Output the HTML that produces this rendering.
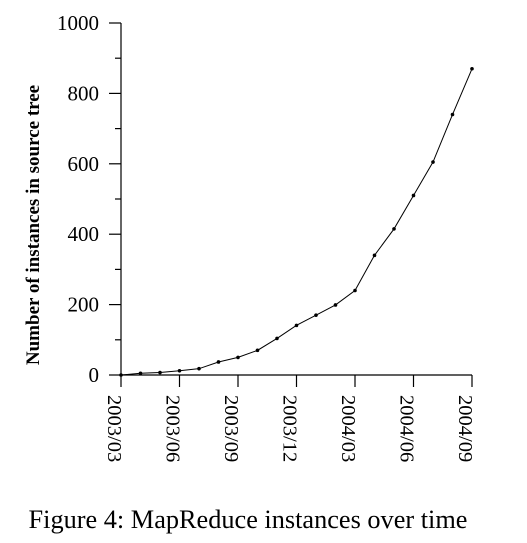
<!DOCTYPE html>
<html><head><meta charset="utf-8"><style>
body{margin:0;background:#fff;}
svg{display:block;font-family:"Liberation Serif",serif;}
</style></head><body>
<svg id="c" width="527" height="543"></svg>
<script>
const months=["2003/03","2003/04","2003/05","2003/06","2003/07","2003/08","2003/09","2003/10","2003/11","2003/12","2004/01","2004/02","2004/03","2004/04","2004/05","2004/06","2004/07","2004/08","2004/09"];
const values=[0,5,7,12,18,37,50,70,104,141,170,199,240,340,415,510,605,740,870];
const yTicks=[0,200,400,600,800,1000];
const xTickLabels=["2003/03","2003/06","2003/09","2003/12","2004/03","2004/06","2004/09"];
const NS="http://www.w3.org/2000/svg";
const svg=document.getElementById('c');
const x0=121,dx=19.5,y0=375,ky=0.352;
const X=i=>x0+i*dx, Y=v=>y0-v*ky;
function el(t,a,p){const e=document.createElementNS(NS,t);for(const k in a)e.setAttribute(k,a[k]);(p||svg).appendChild(e);return e;}
let e=el('line',{x1:x0,y1:Y(1000),x2:x0,y2:y0,stroke:'#000','stroke-width':1.2});

e=el('line',{x1:x0,y1:y0,x2:X(18),y2:y0,stroke:'#000','stroke-width':1.2});

for(let v=0;v<=1000;v+=100){const big=v%200===0;
 e=el('line',{x1:x0-(big?12:6),y1:Y(v),x2:x0,y2:Y(v),stroke:'#000','stroke-width':1.2});
 }
yTicks.forEach(v=>{e=el('text',{x:x0-22,y:Y(v)+7,'text-anchor':'end','font-size':21});e.textContent=v;
 });
xTickLabels.forEach(l=>{const i=months.indexOf(l),x=X(i);
 e=el('line',{x1:x,y1:y0,x2:x,y2:y0+12,stroke:'#000','stroke-width':1.2});
 
 e=el('text',{x:0,y:0,transform:`translate(${x-13},${y0+20}) rotate(90)`,'font-size':20.5});e.textContent=l;
 });
e=el('polyline',{points:values.map((v,i)=>X(i)+','+Y(v)).join(' '),fill:'none',stroke:'#000','stroke-width':1});

values.forEach((v,i)=>{e=el('circle',{cx:X(i),cy:Y(v),r:1.8,fill:'#000'});
 });
e=el('text',{x:0,y:0,transform:'translate(39,225) rotate(-90)','text-anchor':'middle','font-size':19,'font-weight':'bold'});
e.textContent='Number of instances in source tree';

e=el('text',{x:248,y:528,'text-anchor':'middle','font-size':26.3});
e.textContent='Figure 4: MapReduce instances over time';

</script>
</body></html>
